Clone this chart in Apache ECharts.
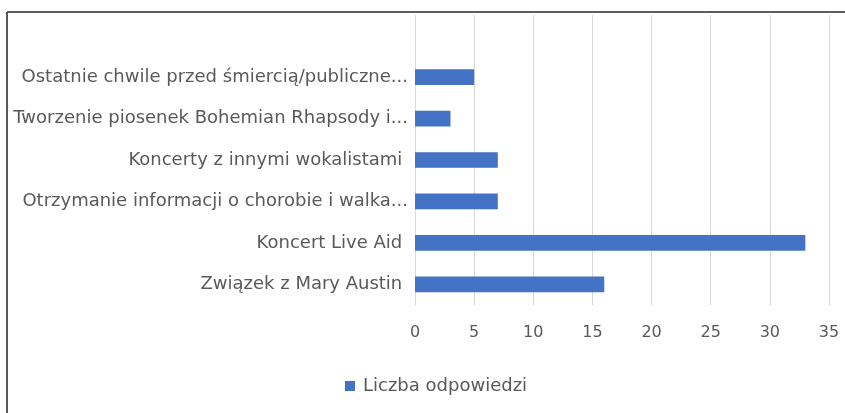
<!DOCTYPE html>
<html>
<head>
<meta charset="utf-8">
<script src="https://cdn.jsdelivr.net/npm/echarts@6/dist/echarts.min.js"></script>
<style>
  html, body { margin: 0; padding: 0; background: #fff; }
  #main { width: 845px; height: 413px; }
</style>
</head>
<body>
<div id="main"></div>
<script>
var myChart = echarts.init(document.getElementById('main'));

// kategorie od dołu do góry, ostatnia pusta (jak w Excelu)
var categories = [
    'Związek z Mary Austin ',
    'Koncert Live Aid ',
    'Otrzymanie informacji o chorobie i walka...',
    'Koncerty z innymi wokalistami ',
    'Tworzenie piosenek Bohemian Rhapsody i...',
    'Ostatnie chwile przed śmiercią/publiczne...',
    ''
];
var values = [16, 33, 7, 7, 3, 5, null];
var xTicks = [0, 35, 5]; // min, max, interval
var seriesName = 'Liczba odpowiedzi';

var font = '"DejaVu Sans", sans-serif';

option = {
    animation: false,
    textStyle: { fontFamily: font },
    grid: {
        left: 415,
        right: 16,
        top: 15,
        bottom: 108
    },
    graphic: [
        { type: 'line', shape: { x1: 7, y1: 12, x2: 845, y2: 12 }, style: { stroke: '#262626', lineWidth: 1.5 } },
        { type: 'line', shape: { x1: 7, y1: 12, x2: 7, y2: 413 }, style: { stroke: '#595959', lineWidth: 2 } }
    ],
    legend: {
        data: [seriesName],
        left: 340,
        top: 372,
        icon: 'rect',
        itemWidth: 10,
        itemHeight: 10,
        itemGap: 5,
        textStyle: { color: '#595959', fontSize: 18, padding: [0, 0, 0, 3], fontFamily: font }
    },
    xAxis: {
        type: 'value',
        min: xTicks[0],
        max: xTicks[1],
        interval: xTicks[2],
        axisLine: { show: false },
        axisTick: { show: false },
        splitLine: { lineStyle: { color: '#d9d9d9', width: 1 } },
        axisLabel: { color: '#595959', fontSize: 16, margin: 20, fontFamily: font }
    },
    yAxis: {
        type: 'category',
        data: categories,
        axisLine: { show: false },
        axisTick: { show: false },
        axisLabel: { color: '#595959', fontSize: 18, margin: 7, fontFamily: font }
    },
    series: [{
        name: seriesName,
        type: 'bar',
        data: values,
        barCategoryGap: '62%',
        itemStyle: { color: '#4472c4' }
    }]
};

myChart.setOption(option);
</script>
</body>
</html>
